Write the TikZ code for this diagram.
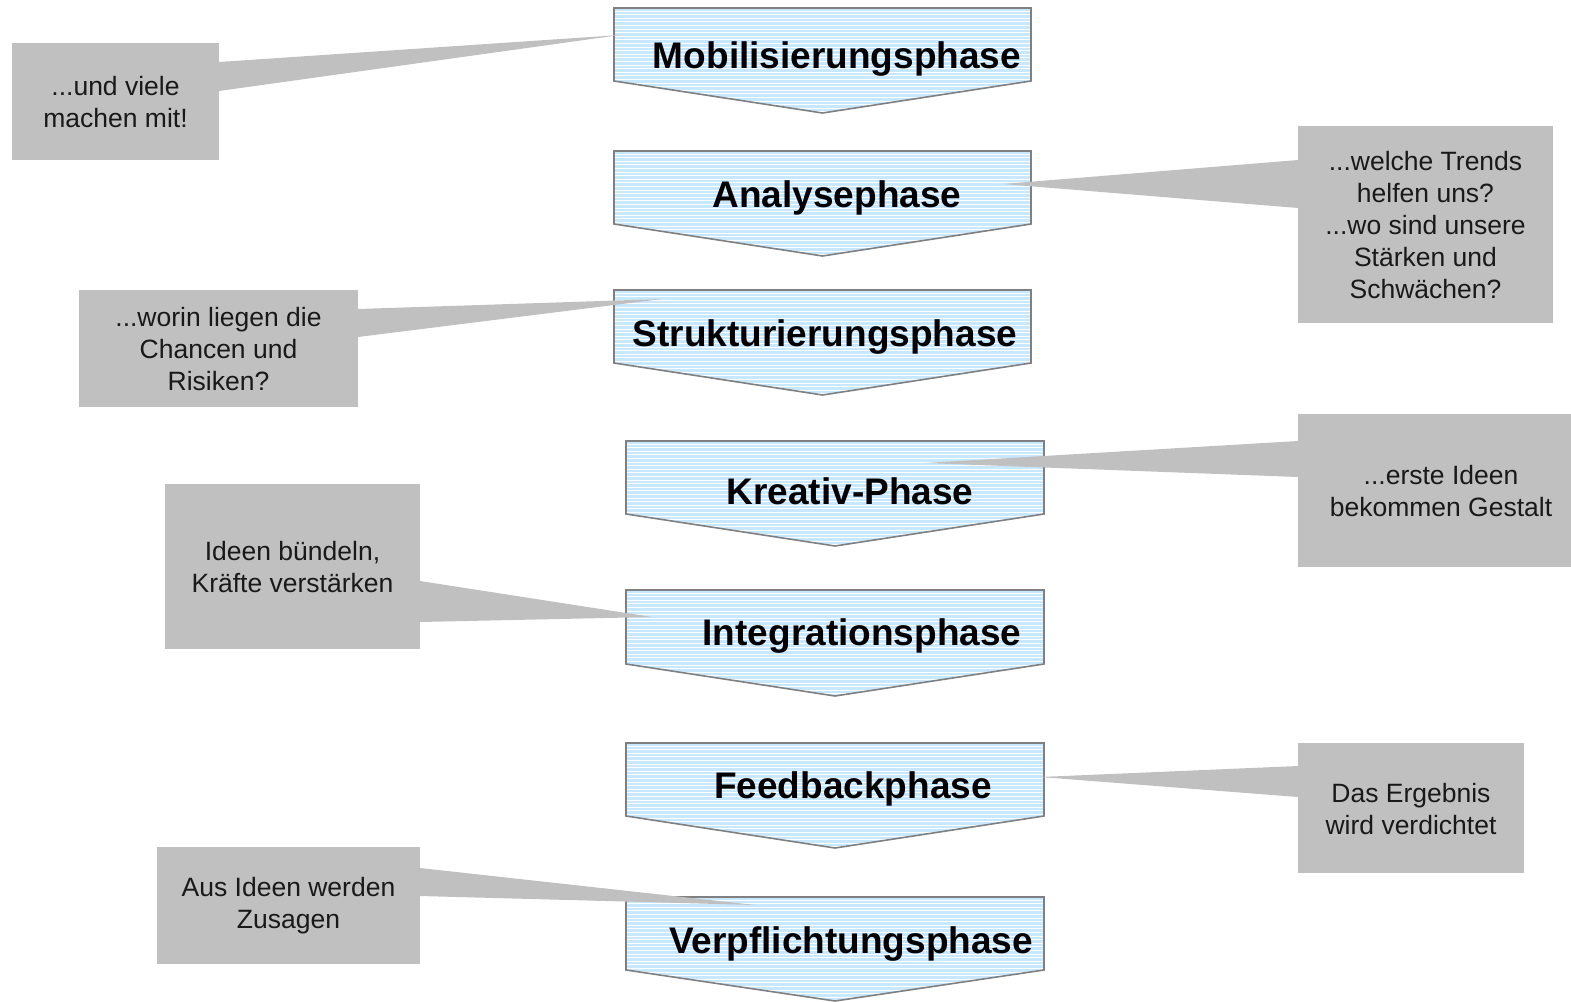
\documentclass[tikz,border=0pt]{standalone}
\usepackage{fontspec}
\setmainfont{Liberation Sans}
\definecolor{calloutgray}{HTML}{C0C0C0}
\definecolor{stripeblue}{HTML}{C8E8FF}
\definecolor{outlinegray}{HTML}{808080}
\newcommand\phaseshape[5]{% left, right, top, shoulder, tip
  \begin{scope}
    \clip (#1,#3) -- (#2,#3) -- (#2,#4) -- ({(#1+#2)/2},#5) -- (#1,#4) -- cycle;
    \fill[stripeblue] (#1,#3) rectangle (#2,#5);
    \foreach \k in {0,...,30}{
      \fill[white] (#1,{#3+2.6+3.6*\k}) rectangle (#2,{#3+3.6+3.6*\k});
    }
  \end{scope}
  \draw[outlinegray, line width=0.8pt, line join=miter] (#1,#3) -- (#2,#3) -- (#2,#4) -- ({(#1+#2)/2},#5) -- (#1,#4) -- cycle;
}
\begin{document}
\begin{tikzpicture}[x=0.5pt,y=-0.5pt,
  phasetext/.style={font=\fontsize{18.5}{22}\selectfont\bfseries, inner sep=0pt, anchor=base},
  calltext/.style={font=\fontsize{13.25}{16}\selectfont, align=center, text=black!90, inner sep=0pt},
  boxfill/.style={fill=calloutgray},
  wedgefill/.style={fill=calloutgray}]
\useasboundingbox (0,0) rectangle (1571,1002);

% phase arrows
\phaseshape{614}{1031}{8}{81}{113}
\node[phasetext] (p1) at (837,68) {Mobilisierungsphase};
\phaseshape{614}{1031}{151}{224}{256}
\node[phasetext] (p2) at (837,207) {Analysephase};
\phaseshape{614}{1031}{290}{363}{395}
\node[phasetext] (p3) at (825,346) {Strukturierungsphase};
\phaseshape{626}{1044}{441}{514}{546}
\node[phasetext] (p4) at (850,504) {Kreativ-Phase};
\phaseshape{626}{1044}{590}{664}{696}
\node[phasetext] (p5) at (862,645) {Integrationsphase};
\phaseshape{626}{1044}{743}{816}{848}
\node[phasetext] (p6) at (853,798) {Feedbackphase};
\phaseshape{626}{1044}{897}{970}{1001}
\node[phasetext] (p7) at (851,953) {Verpflichtungsphase};

% callout tips
\coordinate (tA) at (620,35);
\coordinate (tB) at (1003,184);
\coordinate (tC) at (662,299);
\coordinate (tD) at (925,463);
\coordinate (tE) at (652,617);
\coordinate (tF) at (1040,777);
\coordinate (tG) at (755,905);

% callout A
\fill[boxfill] (12,43) rectangle (219,160);
\fill[wedgefill] (219,62) -- (tA) -- (219,91) -- cycle;
\node[calltext] (cA) at (115.5,102) {...und viele\\machen mit!};

% callout B
\fill[boxfill] (1298,126) rectangle (1553,323);
\fill[wedgefill] (1298,160) -- (tB) -- (1298,208) -- cycle;
\node[calltext] (cB) at (1425.5,225) {...welche Trends\\helfen uns?\\...wo sind unsere\\Stärken und\\Schwächen?};

% callout C
\fill[boxfill] (79,290) rectangle (358,407);
\fill[wedgefill] (358,309) -- (tC) -- (358,337) -- cycle;
\node[calltext] (cC) at (218.5,349) {...worin liegen die\\Chancen und\\Risiken?};

% callout D
\fill[boxfill] (1298,414) rectangle (1571,567);
\fill[wedgefill] (1298,441) -- (tD) -- (1298,477) -- cycle;
\node[calltext] (cD) at (1441,491) {...erste Ideen\\bekommen Gestalt};

% callout E
\fill[boxfill] (165,484) rectangle (420,649);
\fill[wedgefill] (420,581) -- (tE) -- (420,622) -- cycle;
\node[calltext] (cE) at (292.5,567) {Ideen bündeln,\\Kräfte verstärken};

% callout F
\fill[boxfill] (1298,743) rectangle (1524,873);
\fill[wedgefill] (1298,766) -- (tF) -- (1298,797) -- cycle;
\node[calltext] (cF) at (1411,809) {Das Ergebnis\\wird verdichtet};

% callout G
\fill[boxfill] (157,847) rectangle (420,964);
\fill[wedgefill] (420,868) -- (tG) -- (420,896) -- cycle;
\node[calltext] (cG) at (288.5,906) {Aus Ideen werden\\Zusagen};
\end{tikzpicture}
\end{document}
